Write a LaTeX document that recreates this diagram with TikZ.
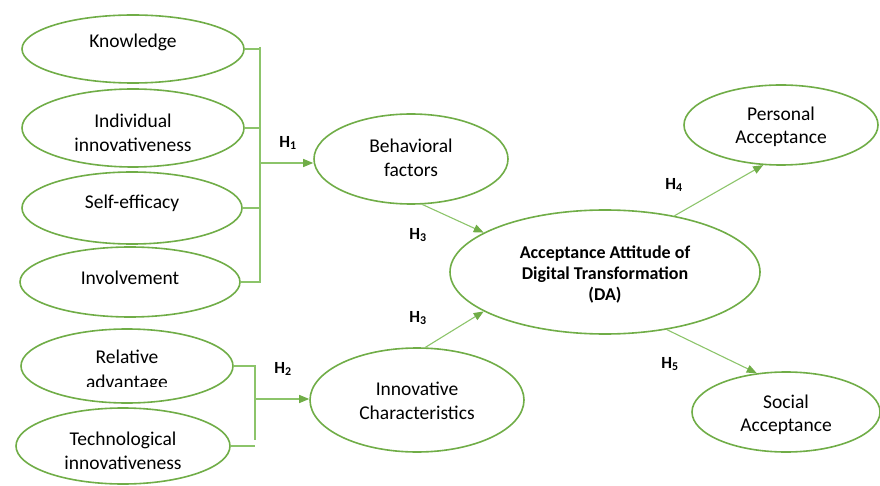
\documentclass[tikz,border=0pt]{standalone}
\usepackage{fontspec}
\setmainfont{Carlito}
\usetikzlibrary{shapes.geometric,arrows.meta}
\definecolor{eg}{HTML}{70AD47}
\definecolor{lg}{HTML}{8CC46A}
\begin{document}
\begin{tikzpicture}[x=1pt,y=-1pt,
  ell/.style={ellipse,draw=eg,line width=1.6pt,fill=white,inner sep=0pt},
  lbl/.style={align=center,inner sep=0pt,font=\fontsize{19.5}{24.5}\selectfont},
  conn/.style={draw=lg,line width=1.1pt},
  arr/.style={conn,-{Triangle[length=10pt,width=8pt,color=eg]}},
  hl/.style={font=\fontsize{17}{19}\selectfont\bfseries}]
\useasboundingbox (0,0) rectangle (880,486);

% left group 1
\node[ell,minimum width=222pt,minimum height=68pt] (kn) at (133,49) {};
\node[lbl] (knt) at (133,42) {Knowledge};
\node[ell,minimum width=222pt,minimum height=78pt] (ii) at (133,128) {};
\node[lbl] (iit) at (133,133) {Individual\\innovativeness};
\node[ell,minimum width=220pt,minimum height=72pt] (se) at (132,208) {};
\node[lbl] (set) at (132,203) {Self-efficacy};
\node[ell,minimum width=220pt,minimum height=70pt] (iv) at (130,282) {};
\node[lbl] (ivt) at (130,278) {Involvement};

% left group 2
\node[ell,minimum width=212pt,minimum height=74pt] (ra) at (127,366) {};
\begin{scope}
  \clip (0,0) rectangle (880,386);
  \node[lbl] (rat) at (127,371) {Relative\\advantage};
\end{scope}
\node[ell,minimum width=214pt,minimum height=76pt] (ti) at (123,446) {};
\node[lbl] (tit) at (123,451) {Technological\\innovativeness};

% middle
\node[ell,minimum width=194pt,minimum height=90pt] (bf) at (411,159) {};
\node[lbl] (bft) at (411,158) {Behavioral\\factors};
\node[ell,minimum width=214pt,minimum height=104pt] (ic) at (417,400) {};
\node[lbl] (ict) at (417,401) {Innovative\\Characteristics};

% DA
\node[ell,minimum width=310pt,minimum height=124pt] (da) at (605,272) {};
\node[lbl,font=\fontsize{18}{21}\selectfont\bfseries] (dat) at (605,275)
  {Acceptance Attitude of\\Digital Transformation\\(DA)};

% right
\node[ell,minimum width=194pt,minimum height=80pt] (pa) at (781,125) {};
\node[lbl,font=\fontsize{19.5}{23}\selectfont] (pat) at (781,127) {Personal\\Acceptance};
\node[ell,minimum width=188pt,minimum height=80pt] (sa) at (786,412) {};
\node[lbl,font=\fontsize{19.5}{23}\selectfont] (sat) at (786,415) {Social\\Acceptance};

% bracket 1
\coordinate (bt) at (260,47);
\coordinate (bb) at (260,283);
\coordinate (bm) at (260,163);
\draw[conn] (bt) -- (bb);
\draw[conn] (kn.east) -- (kn.east -| bt);
\draw[conn] (ii.east) -- (ii.east -| bt);
\draw[conn] (se.east) -- (se.east -| bt);
\draw[conn] (iv.east) -- (iv.east -| bt);
\draw[arr] (bm) -- (bm -| bf.west);
\node[hl] (h1) at (288,143) {H\textsubscript{1}};

% bracket 2
\coordinate (ct) at (255,365);
\coordinate (cb) at (255,440);
\coordinate (cm) at (255,399);
\draw[conn] (ct) -- (cb);
\draw[conn] (ra.east) -- (ra.east -| ct);
\draw[conn] (ti.east) -- (ti.east -| ct);
\draw[arr] (cm) -- (cm -| ic.west);
\node[hl] (h2) at (283,369) {H\textsubscript{2}};

% arrows to/from DA
\draw[arr] (bf.-76) -- (da.162);
\node[hl] (h3a) at (418,235) {H\textsubscript{3}};
\draw[arr] (ic.81) -- (da.198);
\node[hl] (h3b) at (418,318) {H\textsubscript{3}};
\draw[arr] (da.39) -- (pa.246);
\node[hl] (h4) at (674,185) {H\textsubscript{4}};
\draw[arr] (da.-43) -- (sa.127);
\node[hl] (h5) at (670,364) {H\textsubscript{5}};
\end{tikzpicture}
\end{document}
